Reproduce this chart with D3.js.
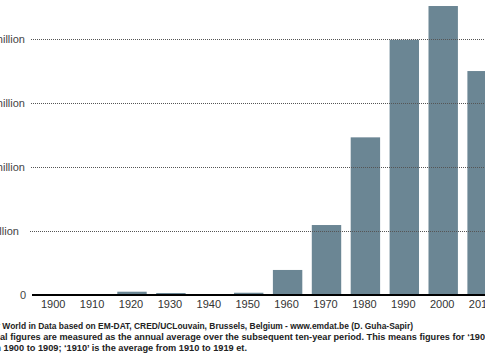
<!DOCTYPE html>
<html><head><meta charset="utf-8">
<script src="https://cdn.jsdelivr.net/npm/d3@7"></script>
<style>
html,body{margin:0;padding:0;background:#fff;overflow:hidden;}
svg{display:block;font-family:"Liberation Sans",Arial,Helvetica,sans-serif;}
</style></head>
<body>
<svg id="c" width="485" height="360"></svg>
<script>
const decades = ["1900","1910","1920","1930","1940","1950","1960","1970","1980","1990","2000","2010"];
const affectedMillions = [0.1, 0.2, 2.8, 1.8, 0.3, 2.0, 19.8, 54.9, 123.4, 199.6, 226.0, 175.2];
const yTickValues = [0, 50, 100, 150, 200];
const yTickLabels = ["0", "50 million", "100 million", "150 million", "200 million"];
const footerLines = [
  "Source: Our World in Data based on EM-DAT, CRED/UCLouvain, Brussels, Belgium - www.emdat.be (D. Guha-Sapir)",
  "Note: Decadal figures are measured as the annual average over the subsequent ten-year period. This means figures for ‘1900’ represent the average",
  "from 1900 to 1909; ‘1910’ is the average from 1910 to 1919 et."
];
// [prefix hidden left of x0, x0, reference substring, x where it ends]
const footerFit = [
  ["Source: Our ", 0, footerLines[0], 413],
  ["Note: Decad", 0, "Note: Decadal figures are measured as the annual average over the subsequent ten-year period. This means figures for ‘190", 485],
  ["from", 1, footerLines[2], 247]
];

const svg = d3.select("#c");
const x = d3.scaleBand().domain(decades).range([34.75, 501.55]).paddingInner(0.244).paddingOuter(0.122);
const y = d3.scaleLinear().domain([0, 200]).range([295.3, 39.3]);

// bars
svg.append("g").selectAll("rect").data(decades).join("rect")
  .attr("x", d => x(d))
  .attr("width", x.bandwidth())
  .attr("y", (d,i) => y(affectedMillions[i]))
  .attr("height", (d,i) => y(0) - y(affectedMillions[i]))
  .attr("fill", "#6b8694");

// gridlines
const grid = svg.append("g");
yTickValues.forEach((v,i) => {
  if (v === 0) return;
  grid.append("line")
    .attr("x1", v === 50 ? 30 : 31).attr("x2", 485)
    .attr("y1", Math.round(y(v)) + 0.5).attr("y2", Math.round(y(v)) + 0.5)
    .attr("stroke", "#555").attr("stroke-width", 1).attr("stroke-dasharray", "1,1");
});

// y labels
const yl = svg.append("g").attr("font-size", 11).attr("fill", "#444");
const probe = yl.append("text").text("100 million");
const w100 = probe.node().getComputedTextLength();
probe.remove();
yTickValues.forEach((v,i) => {
  const t = yl.append("text").text(yTickLabels[i]).attr("y", y(v)).attr("dy", "0.33em");
  if (v === 0) t.attr("x", 26).attr("text-anchor", "end");
  else t.attr("x", 25 - w100);
});

// x axis line
svg.append("line").attr("x1", 32).attr("x2", 485).attr("y1", 295).attr("y2", 295)
  .attr("stroke", "#000").attr("stroke-width", 2);

// x axis labels
const xAxis = d3.axisBottom(x).tickSize(0).tickPadding(0);
const ga = svg.append("g").attr("transform", "translate(-1,300)").call(xAxis);
ga.select(".domain").remove();
ga.selectAll("text").attr("font-size", 11).attr("fill", "#333").attr("font-family", null).attr("dy", "0.71em");

// footer
const ft = svg.append("g").attr("font-size", 9).attr("font-weight", "bold").attr("fill", "#222");
const measure = s => { const p = ft.append("text").text(s); const w = p.node().getComputedTextLength(); p.remove(); return w; };
footerLines.forEach((line,i) => {
  const [prefix, x0, sub, xEnd] = footerFit[i];
  const p = measure(prefix), q = measure(sub), W = measure(line);
  const s = (xEnd - x0) / (q - p);
  ft.append("text").text(line)
    .attr("x", x0 - p * s).attr("y", 329 + i * 11)
    .attr("textLength", W * s).attr("lengthAdjust", "spacingAndGlyphs");
});
</script>
</body></html>
